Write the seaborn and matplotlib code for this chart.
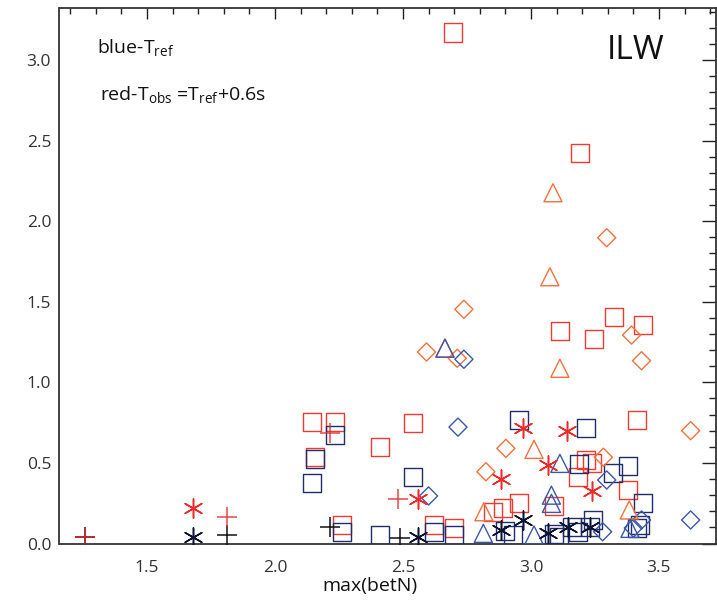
import matplotlib
matplotlib.use("Agg")
import matplotlib.pyplot as plt
from matplotlib.ticker import MultipleLocator
import seaborn as sns

# ---- data: max(betN) vs. value, reference (blue/black) and observed (red/orange) timing ----
ref_sq_x = [2.145, 2.156, 2.234, 2.539, 2.262, 2.41, 2.621, 2.70, 2.954, 3.215, 3.189,
            3.38, 3.32, 3.436, 3.243, 3.413, 3.232, 3.16, 3.09, 3.11, 2.90, 2.93, 3.185, 3.426]
ref_sq_y = [0.375, 0.524, 0.673, 0.413, 0.071, 0.053, 0.071, 0.053, 0.766, 0.715, 0.493,
            0.481, 0.435, 0.253, 0.146, 0.094, 0.104, 0.104, 0.06, 0.04, 0.08, 0.05, 0.073, 0.115]

obs_sq_x = [2.695, 3.19, 3.113, 3.324, 3.246, 3.436, 2.145, 2.234, 2.539, 2.41, 2.156, 2.262,
            2.621, 2.70, 3.413, 3.215, 3.237, 3.185, 3.38, 2.954, 2.892, 2.853, 3.09]
obs_sq_y = [3.17, 2.42, 1.318, 1.407, 1.267, 1.356, 0.754, 0.754, 0.748, 0.599, 0.537, 0.115,
            0.115, 0.096, 0.766, 0.518, 0.501, 0.414, 0.332, 0.253, 0.218, 0.197, 0.233]

ref_dia_x = [2.738, 2.715, 2.60, 3.296, 3.432, 3.624, 3.28, 3.40]
ref_dia_y = [1.143, 0.722, 0.295, 0.394, 0.146, 0.146, 0.073, 0.096]

obs_dia_x = [3.296, 2.738, 3.393, 3.432, 2.712, 2.592, 3.624, 2.902, 3.283, 2.824]
obs_dia_y = [1.897, 1.453, 1.293, 1.134, 1.149, 1.188, 0.70, 0.59, 0.535, 0.445]

ref_tri_x = [2.664, 3.113, 3.08, 3.08, 3.387, 3.012, 2.814]
ref_tri_y = [1.212, 0.497, 0.30, 0.249, 0.094, 0.053, 0.063]

obs_tri_x = [3.086, 3.074, 3.113, 2.664, 3.012, 2.816, 3.384]
obs_tri_y = [2.176, 1.655, 1.087, 1.212, 0.584, 0.197, 0.208]

ref_ast_x = [1.681, 2.559, 2.882, 2.968, 3.068, 3.146, 3.232]
ref_ast_y = [0.042, 0.040, 0.084, 0.146, 0.067, 0.104, 0.104]

obs_ast_x = [1.681, 2.559, 2.97, 3.139, 3.068, 2.882, 3.237]
obs_ast_y = [0.218, 0.276, 0.715, 0.70, 0.487, 0.398, 0.326]

ref_plus_x = [1.258, 1.811, 2.215, 2.488]
ref_plus_y = [0.038, 0.053, 0.102, 0.034]

obs_plus_x = [1.258, 1.811, 2.215, 2.48]
obs_plus_y = [0.038, 0.166, 0.685, 0.276]

x_ticks = [1.5, 2.0, 2.5, 3.0, 3.5]
y_ticks = [0.0, 0.5, 1.0, 1.5, 2.0, 2.5, 3.0]

# ---- style ----
sns.set_theme(style="white")
plt.rcParams["font.family"] = ["Open Sans", "DejaVu Sans"]
plt.rcParams["mathtext.fontset"] = "custom"
plt.rcParams["mathtext.rm"] = "Open Sans"
plt.rcParams["mathtext.it"] = "Open Sans:italic"

NAVY = "#1f2d6b"
BLUE = "#3a58a8"
INK = "#0d1333"
BLACK = "#111111"
RED = "#ef3a32"
ORANGE = "#f4703c"
RED_AST = "#ee2b2b"
RED_PLUS = "#e3262b"
ASTERISK = (6, 2, 0)
LW = 1.0

fig = plt.figure(figsize=(7.17, 6.0), dpi=100)
ax = fig.add_axes([59.5 / 717, 1 - 543.5 / 600, (716 - 59.5) / 717, (543.5 - 8) / 600])


def hollow(x, y, marker, size, color):
    sns.scatterplot(x=x, y=y, marker=marker, s=size, facecolor="none",
                    edgecolor=color, linewidth=LW, ax=ax, legend=False, zorder=3)


def lines(x, y, marker, size, color, alpha=1.0):
    sns.scatterplot(x=x, y=y, marker=marker, s=size, color=color,
                    linewidth=LW * 1.1, ax=ax, legend=False, alpha=alpha, zorder=3)


hollow(obs_sq_x, obs_sq_y, "s", 169, RED)
hollow(ref_sq_x, ref_sq_y, "s", 169, NAVY)
hollow(obs_dia_x, obs_dia_y, "D", 85, ORANGE)
hollow(ref_dia_x, ref_dia_y, "D", 85, BLUE)
hollow(obs_tri_x, obs_tri_y, "^", 169, ORANGE)
hollow(ref_tri_x, ref_tri_y, "^", 169, BLUE)
lines(ref_ast_x, ref_ast_y, ASTERISK, 190, INK)
lines(obs_ast_x, obs_ast_y, ASTERISK, 190, RED_AST)
lines(ref_plus_x, ref_plus_y, "+", 190, BLACK)
lines(obs_plus_x, obs_plus_y, "+", 190, RED_PLUS, alpha=0.85)

ax.set_xlim(1.158, 3.723)
ax.set_ylim(0.0, 3.322)
ax.set_xticks(x_ticks)
ax.set_yticks(y_ticks)
ax.set_xticklabels([f"{v:.1f}" for v in x_ticks])
ax.set_yticklabels([f"{v:.1f}" for v in y_ticks])
ax.xaxis.set_minor_locator(MultipleLocator(0.1))
ax.yaxis.set_minor_locator(MultipleLocator(0.1))
ax.tick_params(axis="both", which="both", direction="in", top=True, right=True,
               color="#222222", width=1.0, labelsize=12.5, labelcolor="#333333")
ax.tick_params(axis="x", which="major", length=8, pad=12)
ax.tick_params(axis="x", which="minor", length=4)
ax.tick_params(axis="y", which="major", length=10, pad=6)
ax.tick_params(axis="y", which="minor", length=5)
for sp in ax.spines.values():
    sp.set_color("#333333")
    sp.set_linewidth(1.3)
ax.set_xlabel("")
ax.set_ylabel("")

fig.text(370 / 717, 1 - 586 / 600, "max(betN)", ha="center", va="center",
         fontsize=14, color="#111111")
fig.text(97 / 717, 1 - 53 / 600, r"blue-T$_\mathrm{ref}$", ha="left", va="baseline",
         fontsize=14, color="#111111")
fig.text(100 / 717, 1 - 100 / 600, r"red-T$_\mathrm{obs}$ =T$_\mathrm{ref}$+0.6s",
         ha="left", va="baseline", fontsize=14, color="#111111")
fig.text(607 / 717, 1 - 59 / 600, "ILW", ha="left", va="baseline",
         fontsize=24, color="#111111")

fig.savefig("out.png", dpi=100)
